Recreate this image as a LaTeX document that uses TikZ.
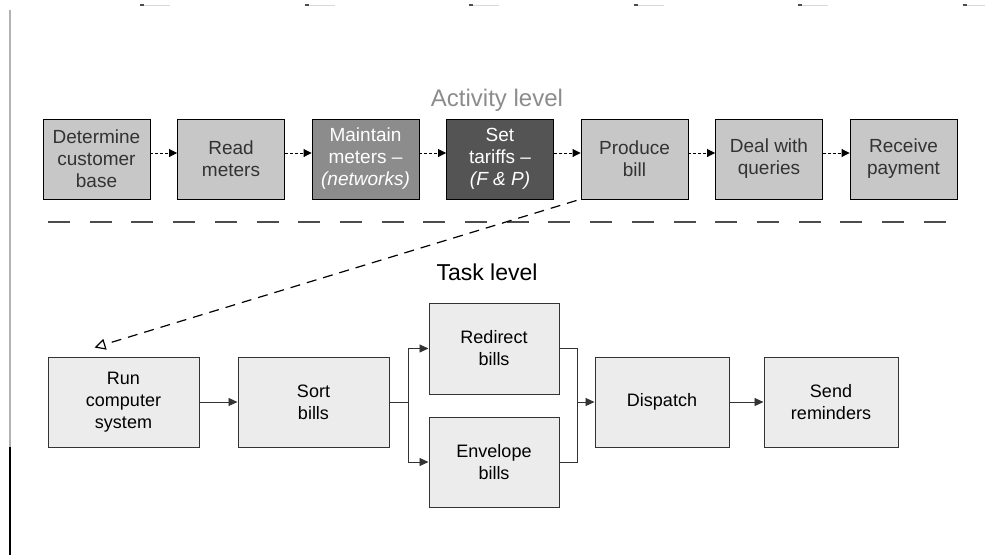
\documentclass[tikz,border=0pt]{standalone}
\usepackage{fontspec}
\setmainfont{Liberation Sans}
\usetikzlibrary{arrows.meta}

\begin{document}
\begin{tikzpicture}[
  x=1pt, y=-1pt,
  font=\fontsize{19}{22}\selectfont,
  activity/.style={draw=black, line width=0.9pt, fill=black!22, text=black!80,
    minimum width=107pt, minimum height=80pt, align=center, inner sep=0pt},
  darkactivity/.style={activity, fill=black!#1, text=white},
  task/.style={draw=black!80, line width=1pt, fill=black!7.5,
    minimum height=90pt, align=center, inner sep=0pt,
    font=\fontsize{18}{22}\selectfont},
  flowarrow/.style={-{Triangle[length=8pt,width=8pt]}, line width=0.9pt, densely dashed},
  taskline/.style={line width=0.9pt, black!80},
  taskarrow/.style={taskline, -{Triangle[length=9pt,width=8pt]}},
  refarrow/.style={-{Triangle[open,length=11pt,width=11pt]}, line width=1.2pt, dash pattern=on 10pt off 7pt},
  title/.style={font=\fontsize{#1}{#1}\selectfont}
]
\useasboundingbox (0,0) rectangle (985,555);

% frame remains
\draw[black!30, line width=1.2pt] (10,10) -- (10,447);
\draw[black, line width=1.2pt] (10,447) -- (10,555);
\foreach \x in {140,304.5,469,633.5,798,962.5} {
  \draw[black!15, line width=1pt] (\x,5) -- (\x+30,5);
  \draw[black!70, line width=1.5pt] (\x,5) -- (\x+4,5);
}

% activity level
\node[title=24, text=black!45] (activitytitle) at (497,100) {Activity level};

\node[activity] (customer) at (96.5,159) {Determine\\customer\\base};
\node[activity] (read) at (231,159) {Read\\meters};
\node[darkactivity=45] (maintain) at (365.5,159) {Maintain\\meters --\\\textit{(networks)}};
\node[darkactivity=67] (tariffs) at (500,159) {Set\\tariffs --\\\textit{(F \& P)}};
\node[activity] (produce) at (634.5,159) {Produce\\bill};
\node[activity] (queries) at (769,159) {Deal with\\queries};
\node[activity] (payment) at (903.5,159) {Receive\\payment};

\draw[flowarrow] ([yshift=6pt]customer.east) -- ([yshift=6pt]read.west);
\draw[flowarrow] ([yshift=6pt]read.east) -- ([yshift=6pt]maintain.west);
\draw[flowarrow] ([yshift=6pt]maintain.east) -- ([yshift=6pt]tariffs.west);
\draw[flowarrow] ([yshift=6pt]tariffs.east) -- ([yshift=6pt]produce.west);
\draw[flowarrow] ([yshift=6pt]produce.east) -- ([yshift=6pt]queries.west);
\draw[flowarrow] ([yshift=6pt]queries.east) -- ([yshift=6pt]payment.west);

% level break
\foreach \i in {0,...,21}
  \draw[black!70, line width=2.4pt] (48+41.7*\i,222) -- (70+41.7*\i,222);

% task level
\node[title=23] (tasktitle) at (487,272) {Task level};

\node[task, minimum width=151pt] (run) at (123.5,402) {Run\\computer\\system};
\node[task, minimum width=151pt] (sort) at (313.5,402) {Sort\\bills};
\node[task, minimum width=130pt, minimum height=91pt] (redirect) at (494,348.5) {Redirect\\bills};
\node[task, minimum width=130pt] (envelope) at (494,462) {Envelope\\bills};
\node[task, minimum width=134pt] (dispatch) at (662,402) {Dispatch};
\node[task, minimum width=134pt] (reminders) at (831,402) {Send\\reminders};

\coordinate (fork) at (408,402);
\coordinate (join) at (577,402);

\draw[taskarrow] (run) -- (sort);
\draw[taskline] (sort) -- (fork);
\draw[taskarrow] (fork) |- (redirect.west);
\draw[taskarrow] (fork) |- (envelope.west);
\draw[taskline] (redirect.east) -| (join);
\draw[taskline] (envelope.east) -| (join);
\draw[taskarrow] (join) -- (dispatch);
\draw[taskarrow] (dispatch) -- (reminders);

% produce bill broken down
\draw[refarrow] ([xshift=-4pt,yshift=-1pt]produce.south west) -- ([xshift=47pt,yshift=9pt]run.north west);

\end{tikzpicture}
\end{document}
